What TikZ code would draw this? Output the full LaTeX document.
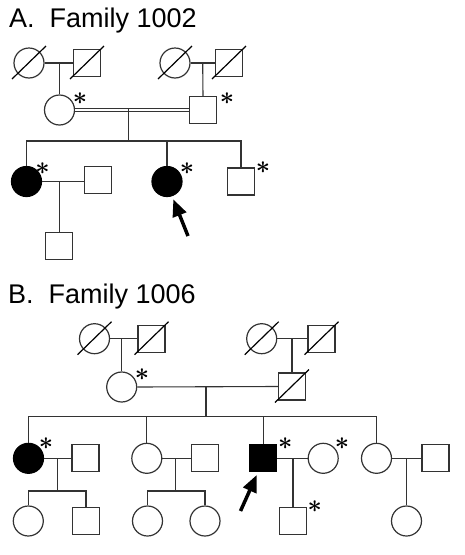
\documentclass[tikz,border=0pt]{standalone}
\usepackage{fontspec}
\setmainfont{Liberation Sans}
\usetikzlibrary{arrows.meta}
\definecolor{ln}{gray}{0.2}
\tikzset{
  fem/.style={circle,draw=ln,line width=1.2pt,minimum size=30pt,inner sep=0pt,fill=white},
  mal/.style={rectangle,draw=ln,line width=1.2pt,minimum size=27pt,inner sep=0pt,fill=white},
  aff/.style={fill=black,draw=black},
  rel/.style={draw=ln,line width=1.1pt},
  dec/.style={draw=black,line width=1.2pt},
  star/.style={inner sep=0pt,text=black,font=\fontsize{25}{25}\selectfont\boldmath},
  proband/.style={line width=3.5pt,-{Triangle[length=17pt,width=14pt]}},
  ttl/.style={anchor=base west,inner sep=0pt,font=\fontsize{27}{27}\selectfont}
}
\newcommand{\slashit}[1]{\draw[dec] ([shift={(-17,16)}]#1.center) -- ([shift={(17,-17)}]#1.center);}
\begin{document}
\begin{tikzpicture}[x=1pt,y=-1pt]
\useasboundingbox (0,0) rectangle (464,555);
% ---------- Panel A ----------
\node[ttl] (tA) at (9,27) {A.\ \ Family 1002};
% generation I
\node[fem] (a11) at (29,63) {};
\node[mal] (a12) at (87,63) {};
\node[fem] (a13) at (175,63) {};
\node[mal] (a14) at (229,63) {};
\draw[rel] (a11) -- (a12);
\draw[rel] (a13) -- (a14);
\slashit{a11}\slashit{a12}\slashit{a13}\slashit{a14}
% generation II
\node[fem] (a21) at (59.5,110) {};
\node[mal] (a22) at (203,110) {};
\coordinate (am1) at (59.5,63);
\coordinate (am2) at (202.7,63);
\draw[rel] (am1) -- (a21.north);
\draw[rel] (am2) -- (a22.north);
\draw[rel,double distance=2.2pt] (a21.east) -- (a22.west);
\coordinate (am3) at (128.3,110);
\coordinate (as1) at (128.3,141);
\draw[rel] ([yshift=1.7]am3) -- (as1);
% generation III
\node[fem,aff] (a31) at (26.5,181.5) {};
\node[mal] (a32) at (98,180) {};
\node[fem,aff] (a33) at (167,181.5) {};
\node[mal] (a34) at (241,181.5) {};
\draw[rel] (a31.north) |- (a34.north |- as1) -- (a34.north);
\draw[rel] (a33.north) -- (a33.north |- as1);
\draw[rel] (a31.east) -- (a32.west |- a31.east);
\coordinate (am4) at (59.3,181.5);
\node[mal] (a41) at (59.3,246) {};
\draw[rel] (am4) -- (a41.north);
% asterisks A
\node[star] (sa21) at (80,99) {$\ast$};
\node[star] (sa22) at (227,99) {$\ast$};
\node[star] (sa31) at (42.5,168.5) {$\ast$};
\node[star] (sa33) at (187,169) {$\ast$};
\node[star] (sa34) at (263,168) {$\ast$};
% proband arrow A
\coordinate (arA1) at (188,236);
\coordinate (arA2) at (173.3,199.3);
\draw[proband] (arA1) -- (arA2);
% ---------- Panel B ----------
\node[ttl] (tB) at (8,303) {B.\ \ Family 1006};
% generation I
\node[fem] (b11) at (94.5,338.7) {};
\node[mal] (b12) at (151.5,338.7) {};
\node[fem] (b13) at (261.7,338.7) {};
\node[mal] (b14) at (321.5,338.7) {};
\draw[rel] (b11) -- (b12);
\draw[rel] (b13) -- (b14);
\slashit{b11}\slashit{b12}\slashit{b13}\slashit{b14}
% generation II
\node[fem] (b21) at (121.7,387) {};
\node[mal] (b22) at (292,386.5) {};
\slashit{b22}
\coordinate (bm1) at (121.7,338.7);
\coordinate (bm2) at (292,338.7);
\draw[rel] (bm1) -- (b21.north);
\draw[rel] (bm2) -- (b22.north);
\draw[rel] (b21.east) -- (b22.west);
\coordinate (bm3) at (206,386.5);
\coordinate (bs1) at (206,416.7);
\draw[rel] (bm3) -- (bs1);
% generation III
\node[fem,aff] (b31) at (28.5,458.3) {};
\node[mal] (b32) at (85.5,458.3) {};
\node[fem] (b33) at (146.8,458.3) {};
\node[mal] (b34) at (204.8,458.3) {};
\node[mal,aff] (b35) at (263.3,458.3) {};
\node[fem] (b36) at (323.2,458.3) {};
\node[fem] (b37) at (376.5,458.3) {};
\node[mal] (b38) at (435.5,458.3) {};
\draw[rel] (b31.north) |- (b37.north |- bs1) -- (b37.north);
\draw[rel] (b33.north) -- (b33.north |- bs1);
\draw[rel] (b35.north) -- (b35.north |- bs1);
\draw[rel] (b31) -- (b32);
\draw[rel] (b33) -- (b34);
\draw[rel] (b35) -- (b36);
\draw[rel] (b37) -- (b38);
% generation IV
\node[fem] (b41) at (28.3,521) {};
\node[mal] (b42) at (86,521) {};
\node[fem] (b43) at (147.5,521) {};
\node[fem] (b44) at (205,521) {};
\node[mal] (b45) at (293,521) {};
\node[fem] (b46) at (406.5,521) {};
\coordinate (bm4) at (57.3,458.3);
\coordinate (bs2) at (57.3,491);
\draw[rel] (bm4) -- (bs2);
\draw[rel] (b41.north) |- (bs2) -| (b42.north);
\coordinate (bm5) at (175.5,458.3);
\coordinate (bs3) at (175.5,491);
\draw[rel] (bm5) -- (bs3);
\draw[rel] (b43.north) |- (bs3) -| (b44.north);
\coordinate (bm6) at (293,458.3);
\draw[rel] (bm6) -- (b45.north);
\coordinate (bm7) at (406.5,458.3);
\draw[rel] (bm7) -- (b46.north);
% asterisks B
\node[star] (sb21) at (142,374.5) {$\ast$};
\node[star] (sb31) at (46,444) {$\ast$};
\node[star] (sb35) at (285.3,444) {$\ast$};
\node[star] (sb36) at (342,444) {$\ast$};
\node[star] (sb45) at (314.7,506.5) {$\ast$};
% proband arrow B
\coordinate (arB1) at (240.5,511);
\coordinate (arB2) at (256.7,475);
\draw[proband] (arB1) -- (arB2);
\end{tikzpicture}
\end{document}
